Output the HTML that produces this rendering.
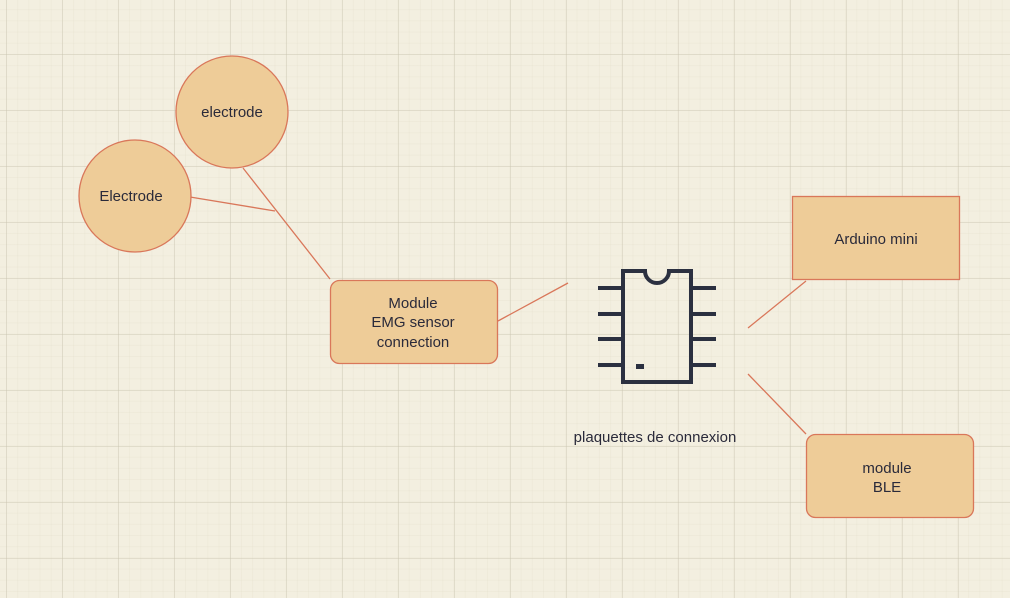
<!DOCTYPE html>
<html><head><meta charset="utf-8"><style>
html,body{margin:0;padding:0}
body{width:1010px;height:598px;overflow:hidden;background-color:#f3efe0;
background-image:
linear-gradient(to right, rgba(200,195,175,0.4) 1px, transparent 1px),
linear-gradient(to bottom, rgba(200,195,175,0.4) 1px, transparent 1px),
linear-gradient(to right, rgba(225,220,200,0.25) 1px, transparent 1px),
linear-gradient(to bottom, rgba(225,220,200,0.25) 1px, transparent 1px);
background-size:56px 56px,56px 56px,11.2px 11.2px,11.2px 11.2px;
background-position:6px -2px,6px -2px,6px -2px,6px -2px;
font-family:"Liberation Sans",sans-serif;color:#2a2a3a}
svg{position:absolute;left:0;top:0}
</style></head><body>
<svg width="1010" height="598" viewBox="0 0 1010 598">
<g stroke="#d9775a" stroke-width="1.3" fill="none">
<line x1="243" y1="168" x2="330" y2="279"/>
<line x1="190" y1="197" x2="275" y2="211"/>
<line x1="498" y1="321" x2="568" y2="283"/>
<line x1="748" y1="328" x2="806" y2="281"/>
<line x1="748" y1="374" x2="806" y2="434"/>
</g>
<g fill="#eecc98" stroke="#d9775a" stroke-width="1.3">
<circle cx="232" cy="112" r="56"/>
<circle cx="135" cy="196" r="56"/>
<rect x="330.5" y="280.5" width="167" height="83" rx="9"/>
<rect x="792.5" y="196.5" width="167" height="83"/>
<rect x="806.5" y="434.5" width="167" height="83" rx="9"/>
</g>
<g stroke="#2b3040" stroke-width="4" fill="none">
<path d="M623 271 H645 A12 12 0 0 0 669 271 H691 V382 H623 Z"/>
<path d="M598 288H621M598 314H621M598 339H621M598 365H621M693 288H716M693 314H716M693 339H716M693 365H716"/>
</g>
<rect x="636" y="364" width="8" height="5" fill="#2b3040"/>
<g font-family="Liberation Sans, sans-serif" font-size="15" fill="#2a2a3a" text-anchor="middle">
<text x="232" y="117">electrode</text>
<text x="131" y="201">Electrode</text>
<text x="413" y="308">Module</text>
<text x="413" y="327">EMG sensor</text>
<text x="413" y="347">connection</text>
<text x="876" y="244">Arduino mini</text>
<text x="887" y="473">module</text>
<text x="887" y="492">BLE</text>
<text x="655" y="442">plaquettes de connexion</text>
</g>
</svg>
</body></html>
